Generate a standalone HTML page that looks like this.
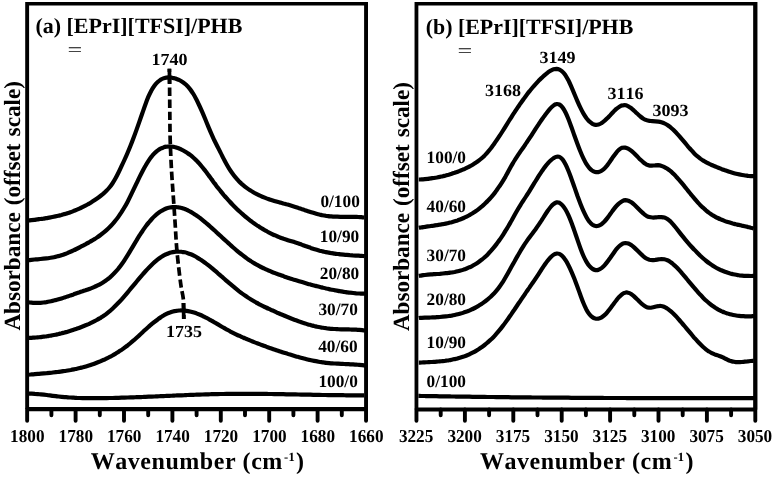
<!DOCTYPE html>
<html><head><meta charset="utf-8"><title>FTIR</title>
<style>html,body{margin:0;padding:0;background:#fff}svg{display:block}text{font-family:"Liberation Serif",serif;font-weight:bold;fill:#000;text-rendering:geometricPrecision;font-kerning:none}</style></head><body>
<svg width="775" height="477" viewBox="0 0 775 477">
<rect width="775" height="477" fill="#fff"/>
<g fill="none" stroke="#000" stroke-width="4.2" stroke-linejoin="round" stroke-linecap="butt">
<path d="M28.4,220.5C28.9,220.4 30.4,220.2 31.4,220.1C32.4,220.0 33.4,219.9 34.4,219.8C35.4,219.7 36.4,219.5 37.4,219.4C38.4,219.3 39.4,219.1 40.4,219.0C41.4,218.9 42.4,218.7 43.4,218.6C44.4,218.4 45.4,218.3 46.4,218.1C47.4,217.9 48.4,217.8 49.4,217.6C50.4,217.4 51.4,217.2 52.4,217.0C53.4,216.8 54.4,216.6 55.4,216.4C56.4,216.2 57.4,216.0 58.4,215.7C59.4,215.5 60.4,215.2 61.4,215.0C62.4,214.7 63.4,214.4 64.4,214.1C65.4,213.9 66.4,213.6 67.4,213.2C68.4,212.9 69.4,212.6 70.4,212.2C71.4,211.9 72.4,211.5 73.4,211.1C74.4,210.8 75.4,210.4 76.4,209.9C77.4,209.5 78.4,209.1 79.4,208.6C80.4,208.2 81.4,207.7 82.4,207.2C83.4,206.7 84.4,206.2 85.4,205.7C86.4,205.2 87.4,204.6 88.4,204.0C89.4,203.5 90.4,202.9 91.4,202.2C92.4,201.6 93.4,201.0 94.4,200.3C95.4,199.6 96.4,198.9 97.4,198.2C98.4,197.5 99.4,196.8 100.4,196.0C101.4,195.2 102.4,194.4 103.4,193.6C104.4,192.7 105.4,191.8 106.4,190.8C107.4,189.8 108.4,188.7 109.4,187.5C110.4,186.3 111.4,185.0 112.4,183.5C113.4,182.0 114.4,180.4 115.4,178.6C116.4,176.8 117.4,174.8 118.4,172.8C119.4,170.8 120.4,168.6 121.4,166.4C122.4,164.3 123.4,162.2 124.4,160.0C125.4,157.8 126.4,155.6 127.4,153.2C128.4,150.9 129.4,148.5 130.4,146.0C131.4,143.5 132.4,140.9 133.4,138.2C134.4,135.6 135.4,132.9 136.4,130.1C137.4,127.3 138.4,124.5 139.4,121.6C140.4,118.8 141.4,115.8 142.4,113.0C143.4,110.1 144.4,107.1 145.4,104.4C146.4,101.7 147.4,99.0 148.4,96.7C149.4,94.4 150.4,92.3 151.4,90.4C152.4,88.6 153.4,87.1 154.4,85.7C155.4,84.3 156.4,83.2 157.4,82.3C158.4,81.3 159.4,80.6 160.4,79.9C161.4,79.3 162.4,78.8 163.4,78.4C164.4,78.0 165.4,77.8 166.4,77.6C167.4,77.4 168.4,77.4 169.4,77.4C170.4,77.4 171.4,77.6 172.4,77.8C173.4,77.9 174.4,78.2 175.4,78.5C176.4,78.9 177.4,79.3 178.4,79.7C179.4,80.2 180.4,80.7 181.4,81.3C182.4,81.9 183.4,82.6 184.4,83.4C185.4,84.2 186.4,85.0 187.4,86.1C188.4,87.1 189.4,88.3 190.4,89.6C191.4,90.9 192.4,92.4 193.4,94.0C194.4,95.6 195.4,97.5 196.4,99.4C197.3,101.3 198.3,103.4 199.3,105.5C200.3,107.6 201.3,109.9 202.3,112.2C203.3,114.5 204.3,116.9 205.3,119.3C206.3,121.7 207.3,124.2 208.3,126.6C209.3,129.0 210.3,131.5 211.3,133.7C212.3,136.0 213.3,138.2 214.3,140.3C215.3,142.3 216.3,144.2 217.3,146.2C218.3,148.2 219.3,150.1 220.3,152.1C221.3,154.0 222.3,156.1 223.3,158.1C224.3,160.0 225.3,162.0 226.3,163.8C227.3,165.6 228.3,167.3 229.3,168.9C230.3,170.5 231.3,171.9 232.3,173.3C233.3,174.7 234.3,176.0 235.3,177.2C236.3,178.4 237.3,179.6 238.3,180.6C239.3,181.7 240.3,182.6 241.3,183.6C242.3,184.5 243.3,185.3 244.3,186.1C245.3,187.0 246.3,187.7 247.3,188.4C248.3,189.1 249.3,189.8 250.3,190.4C251.3,191.1 252.3,191.7 253.3,192.3C254.3,192.9 255.3,193.4 256.3,193.9C257.3,194.4 258.3,194.9 259.3,195.4C260.3,195.9 261.3,196.3 262.3,196.7C263.3,197.1 264.3,197.5 265.3,197.9C266.3,198.3 267.3,198.7 268.3,199.0C269.3,199.4 270.3,199.7 271.3,200.0C272.3,200.3 273.3,200.6 274.3,200.9C275.3,201.2 276.3,201.5 277.3,201.8C278.3,202.1 279.3,202.4 280.3,202.6C281.3,202.9 282.3,203.2 283.3,203.5C284.3,203.7 285.3,204.0 286.3,204.3C287.3,204.5 288.3,204.8 289.3,205.1C290.3,205.4 291.3,205.7 292.3,206.0C293.3,206.3 294.3,206.6 295.3,206.9C296.3,207.2 297.3,207.5 298.3,207.9C299.3,208.2 300.3,208.5 301.3,208.9C302.3,209.2 303.3,209.5 304.3,209.9C305.3,210.2 306.3,210.6 307.3,210.9C308.3,211.2 309.3,211.6 310.3,211.9C311.3,212.2 312.3,212.5 313.3,212.8C314.3,213.1 315.3,213.4 316.3,213.7C317.3,214.0 318.3,214.3 319.3,214.5C320.3,214.7 321.3,215.0 322.3,215.2C323.3,215.4 324.3,215.6 325.3,215.7C326.3,215.9 327.3,216.0 328.3,216.1C329.3,216.3 330.3,216.3 331.3,216.4C332.3,216.5 333.3,216.6 334.3,216.6C335.3,216.7 336.3,216.7 337.3,216.7C338.3,216.8 339.3,216.8 340.3,216.8C341.3,216.8 342.3,216.8 343.3,216.8C344.3,216.8 345.3,216.8 346.3,216.8C347.3,216.8 348.3,216.8 349.3,216.8C350.3,216.8 351.3,216.8 352.3,216.8C353.3,216.9 354.3,216.9 355.3,216.9C356.3,216.9 357.3,217.0 358.3,217.0C359.3,217.1 360.3,217.2 361.3,217.2C362.3,217.3 363.8,217.5 364.3,217.5"/>
<path d="M28.4,260.2C28.9,260.1 30.4,259.9 31.4,259.8C32.4,259.7 33.4,259.6 34.4,259.5C35.4,259.4 36.4,259.4 37.4,259.3C38.4,259.2 39.4,259.1 40.4,259.0C41.4,258.9 42.4,258.8 43.4,258.7C44.4,258.6 45.4,258.5 46.4,258.4C47.4,258.3 48.4,258.2 49.4,258.0C50.4,257.9 51.4,257.7 52.4,257.5C53.4,257.3 54.4,257.1 55.4,256.9C56.4,256.7 57.4,256.4 58.4,256.1C59.4,255.9 60.4,255.6 61.4,255.2C62.4,254.9 63.4,254.6 64.4,254.2C65.4,253.8 66.4,253.5 67.4,253.1C68.4,252.7 69.4,252.2 70.4,251.8C71.4,251.4 72.4,250.9 73.4,250.4C74.4,250.0 75.4,249.5 76.4,249.0C77.4,248.5 78.4,248.0 79.4,247.5C80.4,247.0 81.4,246.4 82.4,245.9C83.4,245.4 84.5,244.8 85.5,244.3C86.5,243.7 87.5,243.2 88.5,242.6C89.5,242.0 90.5,241.5 91.5,240.9C92.5,240.3 93.5,239.7 94.5,239.1C95.5,238.5 96.5,237.8 97.5,237.1C98.5,236.5 99.5,235.8 100.5,235.0C101.5,234.3 102.5,233.5 103.5,232.7C104.5,231.9 105.5,231.0 106.5,230.1C107.5,229.2 108.5,228.3 109.5,227.3C110.5,226.3 111.5,225.2 112.5,224.1C113.5,223.0 114.5,221.8 115.5,220.5C116.5,219.3 117.5,218.0 118.5,216.6C119.5,215.2 120.5,213.7 121.5,212.2C122.5,210.6 123.5,209.0 124.5,207.3C125.5,205.6 126.5,203.8 127.5,201.9C128.5,200.0 129.5,198.0 130.5,195.9C131.5,193.9 132.5,191.8 133.5,189.7C134.5,187.6 135.5,185.5 136.5,183.4C137.5,181.3 138.5,179.1 139.5,177.1C140.5,175.1 141.5,173.1 142.5,171.2C143.5,169.2 144.5,167.4 145.5,165.7C146.5,163.9 147.5,162.3 148.5,160.8C149.5,159.3 150.5,157.9 151.5,156.7C152.5,155.4 153.5,154.3 154.5,153.3C155.5,152.3 156.5,151.4 157.5,150.6C158.5,149.9 159.5,149.2 160.5,148.7C161.5,148.2 162.5,147.7 163.5,147.4C164.5,147.0 165.5,146.8 166.5,146.7C167.5,146.5 168.5,146.4 169.5,146.4C170.5,146.4 171.5,146.5 172.5,146.7C173.5,146.8 174.5,147.1 175.5,147.3C176.5,147.6 177.5,148.0 178.5,148.3C179.5,148.7 180.5,149.2 181.5,149.6C182.5,150.1 183.5,150.6 184.5,151.2C185.5,151.8 186.5,152.4 187.5,153.1C188.5,153.7 189.5,154.4 190.5,155.2C191.5,156.0 192.5,156.9 193.5,157.8C194.5,158.7 195.5,159.6 196.6,160.6C197.6,161.7 198.6,162.8 199.6,163.9C200.6,165.1 201.6,166.3 202.6,167.5C203.6,168.8 204.6,170.0 205.6,171.3C206.6,172.6 207.6,174.0 208.6,175.3C209.6,176.7 210.6,178.0 211.6,179.4C212.6,180.7 213.6,182.1 214.6,183.4C215.6,184.7 216.6,186.1 217.6,187.4C218.6,188.6 219.6,189.9 220.6,191.1C221.6,192.4 222.6,193.6 223.6,194.8C224.6,195.9 225.6,197.1 226.6,198.2C227.6,199.4 228.6,200.5 229.6,201.5C230.6,202.6 231.6,203.7 232.6,204.7C233.6,205.7 234.6,206.7 235.6,207.7C236.6,208.7 237.6,209.7 238.6,210.6C239.6,211.5 240.6,212.5 241.6,213.3C242.6,214.2 243.6,215.1 244.6,216.0C245.6,216.8 246.6,217.6 247.6,218.4C248.6,219.2 249.6,220.0 250.6,220.8C251.6,221.5 252.6,222.3 253.6,223.0C254.6,223.7 255.6,224.4 256.6,225.1C257.6,225.8 258.6,226.4 259.6,227.1C260.6,227.7 261.6,228.3 262.6,228.9C263.6,229.5 264.6,230.1 265.6,230.7C266.6,231.2 267.6,231.8 268.6,232.3C269.6,232.8 270.6,233.3 271.6,233.8C272.6,234.3 273.6,234.8 274.6,235.2C275.6,235.7 276.6,236.1 277.6,236.5C278.6,236.9 279.6,237.3 280.6,237.7C281.6,238.1 282.6,238.4 283.6,238.8C284.6,239.1 285.6,239.4 286.6,239.7C287.6,240.1 288.6,240.4 289.6,240.7C290.6,241.0 291.6,241.3 292.6,241.6C293.6,241.9 294.6,242.2 295.6,242.6C296.6,242.9 297.6,243.2 298.6,243.5C299.6,243.9 300.6,244.2 301.6,244.6C302.6,245.0 303.6,245.3 304.6,245.7C305.6,246.1 306.6,246.4 307.6,246.8C308.6,247.2 309.7,247.5 310.7,247.9C311.7,248.2 312.7,248.6 313.7,248.9C314.7,249.2 315.7,249.5 316.7,249.8C317.7,250.1 318.7,250.4 319.7,250.7C320.7,250.9 321.7,251.2 322.7,251.4C323.7,251.6 324.7,251.9 325.7,252.1C326.7,252.3 327.7,252.5 328.7,252.6C329.7,252.8 330.7,253.0 331.7,253.2C332.7,253.3 333.7,253.5 334.7,253.6C335.7,253.8 336.7,253.9 337.7,254.0C338.7,254.1 339.7,254.3 340.7,254.4C341.7,254.5 342.7,254.6 343.7,254.7C344.7,254.8 345.7,254.8 346.7,254.9C347.7,255.0 348.7,255.1 349.7,255.2C350.7,255.2 351.7,255.3 352.7,255.4C353.7,255.4 354.7,255.5 355.7,255.6C356.7,255.6 357.7,255.7 358.7,255.7C359.7,255.8 360.7,255.8 361.7,255.9C362.7,256.0 364.2,256.0 364.7,256.1"/>
<path d="M28.5,302.3C29.0,302.4 30.5,302.6 31.5,302.7C32.5,302.8 33.5,302.8 34.5,302.9C35.5,302.9 36.5,302.9 37.5,302.9C38.5,302.9 39.5,302.9 40.5,302.8C41.5,302.7 42.5,302.6 43.5,302.5C44.5,302.4 45.5,302.2 46.5,302.1C47.5,301.9 48.5,301.7 49.5,301.5C50.5,301.3 51.5,301.1 52.5,300.9C53.6,300.7 54.6,300.4 55.6,300.1C56.6,299.9 57.6,299.6 58.6,299.3C59.6,299.0 60.6,298.7 61.6,298.4C62.6,298.1 63.6,297.8 64.6,297.4C65.6,297.1 66.6,296.8 67.6,296.4C68.6,296.1 69.6,295.8 70.6,295.4C71.6,295.1 72.6,294.7 73.6,294.4C74.6,294.0 75.6,293.7 76.6,293.3C77.6,293.0 78.6,292.6 79.6,292.3C80.6,291.9 81.6,291.6 82.6,291.3C83.6,290.9 84.6,290.6 85.6,290.3C86.6,289.9 87.6,289.6 88.6,289.2C89.6,288.8 90.6,288.5 91.6,288.1C92.6,287.7 93.6,287.3 94.6,286.8C95.6,286.4 96.6,285.9 97.6,285.4C98.6,284.9 99.6,284.4 100.7,283.8C101.7,283.3 102.7,282.7 103.7,282.0C104.7,281.4 105.7,280.7 106.7,279.9C107.7,279.2 108.7,278.4 109.7,277.6C110.7,276.7 111.7,275.8 112.7,274.8C113.7,273.9 114.7,272.8 115.7,271.7C116.7,270.6 117.7,269.5 118.7,268.2C119.7,267.0 120.7,265.7 121.7,264.3C122.7,262.9 123.7,261.4 124.7,259.8C125.7,258.3 126.7,256.7 127.7,255.1C128.7,253.5 129.7,251.8 130.7,250.1C131.7,248.5 132.7,246.8 133.7,245.1C134.7,243.4 135.7,241.7 136.7,240.1C137.7,238.4 138.7,236.8 139.7,235.2C140.7,233.7 141.7,232.1 142.7,230.7C143.7,229.2 144.7,227.8 145.7,226.4C146.7,225.0 147.7,223.7 148.8,222.5C149.8,221.3 150.8,220.1 151.8,219.0C152.8,217.9 153.8,216.9 154.8,216.0C155.8,215.1 156.8,214.2 157.8,213.4C158.8,212.6 159.8,211.9 160.8,211.3C161.8,210.7 162.8,210.1 163.8,209.6C164.8,209.1 165.8,208.7 166.8,208.3C167.8,208.0 168.8,207.7 169.8,207.5C170.8,207.3 171.8,207.2 172.8,207.1C173.8,207.0 174.8,207.0 175.8,207.0C176.8,207.1 177.8,207.2 178.8,207.4C179.8,207.5 180.8,207.8 181.8,208.0C182.8,208.3 183.8,208.7 184.8,209.0C185.8,209.4 186.8,209.9 187.8,210.3C188.8,210.8 189.8,211.3 190.8,211.9C191.8,212.5 192.8,213.1 193.8,213.7C194.8,214.4 195.8,215.0 196.8,215.7C197.9,216.4 198.9,217.2 199.9,217.9C200.9,218.7 201.9,219.5 202.9,220.3C203.9,221.1 204.9,221.9 205.9,222.8C206.9,223.6 207.9,224.5 208.9,225.4C209.9,226.3 210.9,227.2 211.9,228.1C212.9,229.0 213.9,229.9 214.9,230.8C215.9,231.7 216.9,232.7 217.9,233.6C218.9,234.5 219.9,235.4 220.9,236.3C221.9,237.3 222.9,238.2 223.9,239.1C224.9,240.0 225.9,240.9 226.9,241.8C227.9,242.7 228.9,243.6 229.9,244.5C230.9,245.4 231.9,246.3 232.9,247.2C233.9,248.1 234.9,248.9 235.9,249.8C236.9,250.6 237.9,251.5 238.9,252.3C239.9,253.1 240.9,253.9 241.9,254.7C242.9,255.5 243.9,256.2 245.0,257.0C246.0,257.7 247.0,258.5 248.0,259.2C249.0,259.9 250.0,260.5 251.0,261.2C252.0,261.8 253.0,262.5 254.0,263.1C255.0,263.7 256.0,264.3 257.0,264.8C258.0,265.4 259.0,265.9 260.0,266.5C261.0,267.0 262.0,267.5 263.0,268.0C264.0,268.5 265.0,268.9 266.0,269.4C267.0,269.9 268.0,270.3 269.0,270.7C270.0,271.2 271.0,271.6 272.0,272.0C273.0,272.4 274.0,272.8 275.0,273.1C276.0,273.5 277.0,273.9 278.0,274.3C279.0,274.6 280.0,275.0 281.0,275.3C282.0,275.7 283.0,276.0 284.0,276.4C285.0,276.7 286.0,277.1 287.0,277.4C288.0,277.7 289.0,278.1 290.0,278.4C291.0,278.7 292.0,279.0 293.1,279.4C294.1,279.7 295.1,280.0 296.1,280.3C297.1,280.6 298.1,280.9 299.1,281.2C300.1,281.5 301.1,281.8 302.1,282.1C303.1,282.4 304.1,282.7 305.1,283.0C306.1,283.3 307.1,283.6 308.1,283.9C309.1,284.2 310.1,284.4 311.1,284.7C312.1,285.0 313.1,285.3 314.1,285.5C315.1,285.8 316.1,286.0 317.1,286.3C318.1,286.6 319.1,286.8 320.1,287.0C321.1,287.3 322.1,287.5 323.1,287.8C324.1,288.0 325.1,288.2 326.1,288.5C327.1,288.7 328.1,288.9 329.1,289.1C330.1,289.3 331.1,289.6 332.1,289.8C333.1,290.0 334.1,290.2 335.1,290.3C336.1,290.5 337.1,290.7 338.1,290.9C339.1,291.1 340.1,291.2 341.2,291.4C342.2,291.6 343.2,291.7 344.2,291.9C345.2,292.0 346.2,292.2 347.2,292.3C348.2,292.4 349.2,292.5 350.2,292.7C351.2,292.8 352.2,292.9 353.2,293.0C354.2,293.1 355.2,293.2 356.2,293.3C357.2,293.3 358.2,293.4 359.2,293.5C360.2,293.5 361.2,293.6 362.2,293.6C363.2,293.7 364.7,293.7 365.2,293.8"/>
<path d="M28.5,337.9C29.0,337.9 30.5,337.8 31.5,337.8C32.5,337.7 33.5,337.7 34.5,337.6C35.5,337.5 36.5,337.5 37.5,337.4C38.5,337.3 39.5,337.2 40.5,337.1C41.5,337.0 42.5,336.8 43.5,336.7C44.5,336.6 45.5,336.4 46.5,336.3C47.5,336.1 48.5,336.0 49.5,335.8C50.5,335.6 51.5,335.5 52.5,335.3C53.6,335.1 54.6,334.9 55.6,334.7C56.6,334.5 57.6,334.2 58.6,334.0C59.6,333.8 60.6,333.5 61.6,333.3C62.6,333.0 63.6,332.8 64.6,332.5C65.6,332.2 66.6,332.0 67.6,331.7C68.6,331.4 69.6,331.1 70.6,330.8C71.6,330.5 72.6,330.1 73.6,329.8C74.6,329.5 75.6,329.1 76.6,328.8C77.6,328.4 78.6,328.1 79.6,327.7C80.6,327.3 81.6,326.9 82.6,326.5C83.6,326.1 84.6,325.7 85.6,325.3C86.6,324.9 87.6,324.5 88.6,324.1C89.6,323.6 90.6,323.2 91.6,322.7C92.6,322.2 93.6,321.7 94.6,321.2C95.6,320.7 96.6,320.1 97.6,319.5C98.6,319.0 99.6,318.4 100.7,317.8C101.7,317.1 102.7,316.5 103.7,315.8C104.7,315.1 105.7,314.4 106.7,313.6C107.7,312.8 108.7,312.0 109.7,311.2C110.7,310.3 111.7,309.4 112.7,308.5C113.7,307.6 114.7,306.6 115.7,305.6C116.7,304.6 117.7,303.6 118.7,302.5C119.7,301.5 120.7,300.4 121.7,299.3C122.7,298.1 123.7,297.0 124.7,295.8C125.7,294.7 126.7,293.5 127.7,292.3C128.7,291.1 129.7,289.9 130.7,288.7C131.7,287.5 132.7,286.3 133.7,285.1C134.7,283.9 135.7,282.7 136.7,281.5C137.7,280.3 138.7,279.1 139.7,277.9C140.7,276.7 141.7,275.5 142.7,274.4C143.7,273.2 144.7,272.1 145.7,271.0C146.7,269.9 147.7,268.8 148.8,267.7C149.8,266.7 150.8,265.7 151.8,264.7C152.8,263.7 153.8,262.8 154.8,261.9C155.8,261.0 156.8,260.2 157.8,259.4C158.8,258.6 159.8,257.9 160.8,257.2C161.8,256.6 162.8,256.0 163.8,255.4C164.8,254.9 165.8,254.4 166.8,254.0C167.8,253.5 168.8,253.2 169.8,252.8C170.8,252.5 171.8,252.3 172.8,252.1C173.8,251.9 174.8,251.7 175.8,251.6C176.8,251.6 177.8,251.5 178.8,251.6C179.8,251.6 180.8,251.6 181.8,251.8C182.8,251.9 183.8,252.1 184.8,252.3C185.8,252.5 186.8,252.8 187.8,253.2C188.8,253.5 189.8,253.9 190.8,254.3C191.8,254.7 192.8,255.2 193.8,255.7C194.8,256.2 195.8,256.7 196.8,257.3C197.9,257.9 198.9,258.5 199.9,259.2C200.9,259.8 201.9,260.5 202.9,261.2C203.9,261.9 204.9,262.6 205.9,263.4C206.9,264.1 207.9,264.9 208.9,265.7C209.9,266.5 210.9,267.3 211.9,268.1C212.9,269.0 213.9,269.8 214.9,270.7C215.9,271.5 216.9,272.4 217.9,273.3C218.9,274.1 219.9,275.0 220.9,275.9C221.9,276.7 222.9,277.6 223.9,278.5C224.9,279.4 225.9,280.2 226.9,281.1C227.9,282.0 228.9,282.8 229.9,283.7C230.9,284.5 231.9,285.4 232.9,286.2C233.9,287.0 234.9,287.9 235.9,288.7C236.9,289.5 237.9,290.3 238.9,291.1C239.9,291.8 240.9,292.6 241.9,293.4C242.9,294.1 243.9,294.8 245.0,295.5C246.0,296.2 247.0,296.9 248.0,297.6C249.0,298.3 250.0,298.9 251.0,299.5C252.0,300.1 253.0,300.7 254.0,301.3C255.0,301.9 256.0,302.5 257.0,303.0C258.0,303.5 259.0,304.1 260.0,304.6C261.0,305.1 262.0,305.6 263.0,306.1C264.0,306.6 265.0,307.1 266.0,307.5C267.0,308.0 268.0,308.5 269.0,308.9C270.0,309.4 271.0,309.8 272.0,310.3C273.0,310.7 274.0,311.2 275.0,311.6C276.0,312.1 277.0,312.5 278.0,313.0C279.0,313.4 280.0,313.8 281.0,314.3C282.0,314.7 283.0,315.1 284.0,315.5C285.0,316.0 286.0,316.4 287.0,316.8C288.0,317.2 289.0,317.6 290.0,318.0C291.0,318.4 292.0,318.8 293.1,319.2C294.1,319.6 295.1,320.0 296.1,320.3C297.1,320.7 298.1,321.1 299.1,321.4C300.1,321.8 301.1,322.1 302.1,322.5C303.1,322.8 304.1,323.1 305.1,323.4C306.1,323.8 307.1,324.1 308.1,324.4C309.1,324.7 310.1,324.9 311.1,325.2C312.1,325.5 313.1,325.7 314.1,326.0C315.1,326.2 316.1,326.5 317.1,326.7C318.1,326.9 319.1,327.1 320.1,327.3C321.1,327.5 322.1,327.6 323.1,327.8C324.1,328.0 325.1,328.1 326.1,328.2C327.1,328.4 328.1,328.5 329.1,328.6C330.1,328.7 331.1,328.8 332.1,328.8C333.1,328.9 334.1,329.0 335.1,329.0C336.1,329.1 337.1,329.1 338.1,329.2C339.1,329.2 340.1,329.2 341.2,329.3C342.2,329.3 343.2,329.3 344.2,329.3C345.2,329.4 346.2,329.4 347.2,329.4C348.2,329.4 349.2,329.5 350.2,329.5C351.2,329.5 352.2,329.6 353.2,329.6C354.2,329.6 355.2,329.7 356.2,329.7C357.2,329.8 358.2,329.8 359.2,329.9C360.2,330.0 361.2,330.1 362.2,330.2C363.2,330.3 364.7,330.4 365.2,330.5"/>
<path d="M28.8,374.7C29.3,374.6 30.8,374.5 31.8,374.4C32.8,374.3 33.8,374.3 34.8,374.2C35.8,374.1 36.8,374.0 37.8,373.9C38.8,373.9 39.8,373.8 40.8,373.7C41.8,373.6 42.8,373.5 43.8,373.4C44.8,373.3 45.8,373.2 46.8,373.2C47.8,373.1 48.8,373.0 49.8,372.9C50.8,372.8 51.8,372.7 52.8,372.5C53.8,372.4 54.8,372.3 55.8,372.2C56.8,372.1 57.8,372.0 58.8,371.8C59.8,371.7 60.8,371.6 61.8,371.4C62.8,371.3 63.8,371.1 64.8,371.0C65.8,370.8 66.8,370.7 67.8,370.5C68.8,370.3 69.8,370.1 70.8,370.0C71.9,369.8 72.9,369.6 73.9,369.4C74.9,369.2 75.9,368.9 76.9,368.7C77.9,368.5 78.9,368.3 79.9,368.0C80.9,367.8 81.9,367.5 82.9,367.3C83.9,367.0 84.9,366.7 85.9,366.4C86.9,366.1 87.9,365.8 88.9,365.5C89.9,365.2 90.9,364.9 91.9,364.5C92.9,364.2 93.9,363.9 94.9,363.5C95.9,363.1 96.9,362.7 97.9,362.3C98.9,361.9 99.9,361.5 100.9,361.1C101.9,360.7 102.9,360.2 103.9,359.8C104.9,359.3 105.9,358.9 106.9,358.4C107.9,357.9 108.9,357.4 109.9,356.8C110.9,356.3 111.9,355.8 112.9,355.2C113.9,354.6 114.9,354.1 115.9,353.5C116.9,352.9 117.9,352.2 118.9,351.6C119.9,350.9 120.9,350.3 121.9,349.6C122.9,348.9 123.9,348.2 124.9,347.4C125.9,346.7 126.9,345.9 127.9,345.2C128.9,344.4 129.9,343.6 130.9,342.7C131.9,341.9 132.9,341.0 133.9,340.2C134.9,339.3 135.9,338.4 136.9,337.5C137.9,336.6 138.9,335.7 139.9,334.7C140.9,333.8 141.9,332.9 142.9,332.0C143.9,331.1 144.9,330.1 145.9,329.2C146.9,328.3 147.9,327.4 148.9,326.5C149.9,325.7 150.9,324.8 151.9,323.9C152.9,323.1 153.9,322.3 155.0,321.5C156.0,320.7 157.0,319.9 158.0,319.2C159.0,318.4 160.0,317.7 161.0,317.1C162.0,316.4 163.0,315.8 164.0,315.2C165.0,314.7 166.0,314.2 167.0,313.7C168.0,313.2 169.0,312.8 170.0,312.5C171.0,312.1 172.0,311.8 173.0,311.5C174.0,311.2 175.0,311.0 176.0,310.9C177.0,310.7 178.0,310.6 179.0,310.5C180.0,310.5 181.0,310.4 182.0,310.5C183.0,310.5 184.0,310.5 185.0,310.6C186.0,310.7 187.0,310.9 188.0,311.1C189.0,311.3 190.0,311.5 191.0,311.7C192.0,312.0 193.0,312.3 194.0,312.6C195.0,312.9 196.0,313.2 197.0,313.6C198.0,314.0 199.0,314.4 200.0,314.8C201.0,315.2 202.0,315.7 203.0,316.2C204.0,316.6 205.0,317.1 206.0,317.7C207.0,318.2 208.0,318.7 209.0,319.3C210.0,319.8 211.0,320.4 212.0,320.9C213.0,321.5 214.0,322.1 215.0,322.7C216.0,323.2 217.0,323.8 218.0,324.4C219.0,325.0 220.0,325.6 221.0,326.2C222.0,326.8 223.0,327.4 224.0,327.9C225.0,328.5 226.0,329.1 227.0,329.7C228.0,330.2 229.0,330.7 230.0,331.3C231.0,331.8 232.0,332.3 233.0,332.8C234.0,333.3 235.0,333.8 236.0,334.3C237.0,334.8 238.0,335.3 239.1,335.7C240.1,336.2 241.1,336.6 242.1,337.1C243.1,337.5 244.1,338.0 245.1,338.4C246.1,338.8 247.1,339.2 248.1,339.6C249.1,340.1 250.1,340.5 251.1,340.9C252.1,341.3 253.1,341.7 254.1,342.1C255.1,342.5 256.1,342.9 257.1,343.2C258.1,343.6 259.1,344.0 260.1,344.4C261.1,344.8 262.1,345.1 263.1,345.5C264.1,345.9 265.1,346.2 266.1,346.6C267.1,347.0 268.1,347.3 269.1,347.7C270.1,348.0 271.1,348.4 272.1,348.7C273.1,349.1 274.1,349.4 275.1,349.7C276.1,350.1 277.1,350.4 278.1,350.7C279.1,351.1 280.1,351.4 281.1,351.7C282.1,352.1 283.1,352.4 284.1,352.7C285.1,353.0 286.1,353.3 287.1,353.6C288.1,354.0 289.1,354.3 290.1,354.6C291.1,354.9 292.1,355.2 293.1,355.5C294.1,355.8 295.1,356.1 296.1,356.4C297.1,356.7 298.1,356.9 299.1,357.2C300.1,357.5 301.1,357.8 302.1,358.0C303.1,358.3 304.1,358.6 305.1,358.8C306.1,359.1 307.1,359.3 308.1,359.6C309.1,359.8 310.1,360.0 311.1,360.2C312.1,360.5 313.1,360.7 314.1,360.9C315.1,361.1 316.1,361.3 317.1,361.4C318.1,361.6 319.1,361.8 320.1,362.0C321.1,362.1 322.1,362.3 323.2,362.4C324.2,362.5 325.2,362.7 326.2,362.8C327.2,362.9 328.2,363.0 329.2,363.1C330.2,363.2 331.2,363.3 332.2,363.3C333.2,363.4 334.2,363.5 335.2,363.5C336.2,363.6 337.2,363.7 338.2,363.7C339.2,363.8 340.2,363.8 341.2,363.8C342.2,363.9 343.2,363.9 344.2,364.0C345.2,364.0 346.2,364.1 347.2,364.1C348.2,364.2 349.2,364.2 350.2,364.3C351.2,364.3 352.2,364.4 353.2,364.4C354.2,364.5 355.2,364.6 356.2,364.6C357.2,364.7 358.2,364.8 359.2,364.9C360.2,365.0 361.2,365.1 362.2,365.2C363.2,365.3 364.7,365.5 365.2,365.6"/>
<path d="M28.8,393.6C29.3,393.6 30.8,393.7 31.8,393.7C32.8,393.7 33.8,393.8 34.8,393.9C35.8,393.9 36.8,394.0 37.8,394.1C38.8,394.2 39.8,394.3 40.8,394.4C41.8,394.5 42.8,394.6 43.8,394.7C44.8,394.8 45.8,394.9 46.8,395.0C47.8,395.2 48.8,395.3 49.8,395.4C50.8,395.5 51.8,395.7 52.8,395.8C53.8,395.9 54.8,396.0 55.8,396.1C56.8,396.3 57.7,396.4 58.7,396.5C59.7,396.6 60.7,396.7 61.7,396.8C62.7,396.9 63.7,397.0 64.7,397.1C65.7,397.2 66.7,397.2 67.7,397.3C68.7,397.4 69.7,397.5 70.7,397.5C71.7,397.6 72.7,397.7 73.7,397.7C74.7,397.8 75.7,397.8 76.7,397.9C77.7,397.9 78.7,397.9 79.7,398.0C80.7,398.0 81.7,398.0 82.7,398.1C83.7,398.1 84.7,398.1 85.7,398.1C86.7,398.2 87.7,398.2 88.7,398.2C89.7,398.2 90.7,398.2 91.7,398.2C92.7,398.2 93.7,398.2 94.7,398.2C95.7,398.2 96.7,398.2 97.7,398.2C98.7,398.2 99.7,398.2 100.7,398.2C101.7,398.2 102.7,398.2 103.7,398.1C104.7,398.1 105.7,398.1 106.7,398.1C107.7,398.1 108.7,398.1 109.7,398.0C110.7,398.0 111.7,398.0 112.6,398.0C113.6,397.9 114.6,397.9 115.6,397.9C116.6,397.9 117.6,397.8 118.6,397.8C119.6,397.8 120.6,397.8 121.6,397.7C122.6,397.7 123.6,397.7 124.6,397.6C125.6,397.6 126.6,397.6 127.6,397.5C128.6,397.5 129.6,397.5 130.6,397.4C131.6,397.4 132.6,397.4 133.6,397.3C134.6,397.3 135.6,397.2 136.6,397.2C137.6,397.2 138.6,397.1 139.6,397.1C140.6,397.1 141.6,397.0 142.6,397.0C143.6,396.9 144.6,396.9 145.6,396.8C146.6,396.8 147.6,396.8 148.6,396.7C149.6,396.7 150.6,396.6 151.6,396.6C152.6,396.5 153.6,396.5 154.6,396.5C155.6,396.4 156.6,396.4 157.6,396.3C158.6,396.3 159.6,396.2 160.6,396.2C161.6,396.2 162.6,396.1 163.6,396.1C164.6,396.0 165.6,396.0 166.6,395.9C167.6,395.9 168.6,395.8 169.5,395.8C170.5,395.8 171.5,395.7 172.5,395.7C173.5,395.6 174.5,395.6 175.5,395.5C176.5,395.5 177.5,395.4 178.5,395.4C179.5,395.4 180.5,395.3 181.5,395.3C182.5,395.2 183.5,395.2 184.5,395.2C185.5,395.1 186.5,395.1 187.5,395.0C188.5,395.0 189.5,395.0 190.5,394.9C191.5,394.9 192.5,394.8 193.5,394.8C194.5,394.8 195.5,394.7 196.5,394.7C197.5,394.7 198.5,394.6 199.5,394.6C200.5,394.5 201.5,394.5 202.5,394.5C203.5,394.4 204.5,394.4 205.5,394.4C206.5,394.4 207.5,394.3 208.5,394.3C209.5,394.3 210.5,394.2 211.5,394.2C212.5,394.2 213.5,394.2 214.5,394.1C215.5,394.1 216.5,394.1 217.5,394.1C218.5,394.0 219.5,394.0 220.5,394.0C221.5,394.0 222.5,394.0 223.5,394.0C224.4,393.9 225.4,393.9 226.4,393.9C227.4,393.9 228.4,393.9 229.4,393.9C230.4,393.9 231.4,393.8 232.4,393.8C233.4,393.8 234.4,393.8 235.4,393.8C236.4,393.8 237.4,393.8 238.4,393.8C239.4,393.8 240.4,393.8 241.4,393.8C242.4,393.8 243.4,393.8 244.4,393.8C245.4,393.8 246.4,393.8 247.4,393.8C248.4,393.8 249.4,393.8 250.4,393.8C251.4,393.8 252.4,393.8 253.4,393.8C254.4,393.8 255.4,393.8 256.4,393.8C257.4,393.8 258.4,393.9 259.4,393.9C260.4,393.9 261.4,393.9 262.4,393.9C263.4,393.9 264.4,393.9 265.4,393.9C266.4,393.9 267.4,394.0 268.4,394.0C269.4,394.0 270.4,394.0 271.4,394.0C272.4,394.0 273.4,394.0 274.4,394.1C275.4,394.1 276.4,394.1 277.4,394.1C278.4,394.1 279.4,394.1 280.3,394.2C281.3,394.2 282.3,394.2 283.3,394.2C284.3,394.2 285.3,394.2 286.3,394.3C287.3,394.3 288.3,394.3 289.3,394.3C290.3,394.3 291.3,394.4 292.3,394.4C293.3,394.4 294.3,394.4 295.3,394.4C296.3,394.5 297.3,394.5 298.3,394.5C299.3,394.5 300.3,394.5 301.3,394.6C302.3,394.6 303.3,394.6 304.3,394.6C305.3,394.6 306.3,394.7 307.3,394.7C308.3,394.7 309.3,394.7 310.3,394.7C311.3,394.8 312.3,394.8 313.3,394.8C314.3,394.8 315.3,394.8 316.3,394.8C317.3,394.9 318.3,394.9 319.3,394.9C320.3,394.9 321.3,394.9 322.3,395.0C323.3,395.0 324.3,395.0 325.3,395.0C326.3,395.0 327.3,395.0 328.3,395.1C329.3,395.1 330.3,395.1 331.3,395.1C332.3,395.1 333.3,395.1 334.3,395.1C335.3,395.2 336.2,395.2 337.2,395.2C338.2,395.2 339.2,395.2 340.2,395.2C341.2,395.2 342.2,395.2 343.2,395.2C344.2,395.2 345.2,395.3 346.2,395.3C347.2,395.3 348.2,395.3 349.2,395.3C350.2,395.3 351.2,395.3 352.2,395.3C353.2,395.3 354.2,395.3 355.2,395.3C356.2,395.3 357.2,395.3 358.2,395.3C359.2,395.3 360.2,395.3 361.2,395.3C362.2,395.3 363.7,395.3 364.2,395.3"/>
<path d="M418.8,179.5C419.3,179.5 420.8,179.4 421.8,179.3C422.8,179.3 423.8,179.2 424.8,179.1C425.8,179.0 426.8,178.9 427.8,178.8C428.8,178.7 429.8,178.5 430.8,178.4C431.8,178.3 432.8,178.1 433.8,178.0C434.8,177.8 435.8,177.6 436.8,177.5C437.8,177.3 438.8,177.1 439.8,176.9C440.8,176.7 441.8,176.4 442.8,176.2C443.8,176.0 444.8,175.7 445.8,175.5C446.8,175.2 447.7,174.9 448.7,174.7C449.7,174.4 450.7,174.1 451.7,173.8C452.7,173.4 453.7,173.1 454.7,172.8C455.7,172.4 456.7,172.1 457.7,171.7C458.7,171.3 459.7,170.9 460.7,170.5C461.7,170.1 462.7,169.7 463.7,169.3C464.7,168.8 465.7,168.4 466.7,167.9C467.7,167.4 468.7,167.0 469.7,166.4C470.7,165.9 471.7,165.3 472.7,164.7C473.7,164.1 474.7,163.5 475.7,162.8C476.7,162.2 477.7,161.5 478.7,160.7C479.7,159.9 480.7,159.1 481.7,158.2C482.7,157.3 483.7,156.4 484.7,155.4C485.7,154.3 486.7,153.3 487.7,152.1C488.7,151.0 489.7,149.7 490.7,148.5C491.7,147.2 492.7,145.8 493.7,144.5C494.7,143.1 495.7,141.7 496.7,140.2C497.7,138.7 498.7,137.2 499.7,135.7C500.7,134.2 501.7,132.6 502.7,131.0C503.6,129.5 504.6,127.9 505.6,126.3C506.6,124.7 507.6,123.1 508.6,121.5C509.6,119.9 510.6,118.4 511.6,116.8C512.6,115.2 513.6,113.7 514.6,112.2C515.6,110.6 516.6,109.1 517.6,107.6C518.6,106.2 519.6,104.7 520.6,103.3C521.6,101.8 522.6,100.4 523.6,99.1C524.6,97.7 525.6,96.3 526.6,95.0C527.6,93.7 528.6,92.4 529.6,91.2C530.6,89.9 531.6,88.7 532.6,87.5C533.6,86.3 534.6,85.2 535.6,84.1C536.6,83.0 537.6,81.9 538.6,80.8C539.6,79.8 540.6,78.8 541.6,77.9C542.6,76.9 543.6,76.0 544.6,75.1C545.6,74.3 546.6,73.4 547.6,72.7C548.6,71.9 549.6,71.2 550.6,70.7C551.6,70.1 552.6,69.6 553.6,69.3C554.6,69.0 555.6,68.9 556.6,68.9C557.6,69.0 558.5,69.2 559.5,69.6C560.5,70.1 561.5,70.7 562.5,71.7C563.5,72.6 564.5,73.9 565.5,75.3C566.5,76.8 567.5,78.7 568.5,80.6C569.5,82.6 570.5,84.9 571.5,87.1C572.5,89.4 573.5,91.8 574.5,94.2C575.5,96.6 576.5,99.0 577.5,101.3C578.5,103.6 579.5,105.9 580.5,107.9C581.5,110.0 582.5,111.9 583.5,113.6C584.5,115.3 585.5,116.8 586.5,118.2C587.5,119.5 588.5,120.7 589.5,121.6C590.5,122.6 591.5,123.3 592.5,123.9C593.5,124.4 594.5,124.7 595.5,124.9C596.5,125.0 597.5,124.9 598.5,124.6C599.5,124.3 600.5,123.8 601.5,123.1C602.5,122.5 603.5,121.7 604.5,120.8C605.5,120.0 606.5,119.0 607.5,118.0C608.5,117.0 609.5,115.9 610.5,114.9C611.5,113.8 612.5,112.7 613.5,111.7C614.5,110.8 615.4,109.8 616.4,108.9C617.4,108.1 618.4,107.3 619.4,106.7C620.4,106.1 621.4,105.6 622.4,105.4C623.4,105.1 624.4,105.0 625.4,105.2C626.4,105.3 627.4,105.8 628.4,106.3C629.4,106.8 630.4,107.6 631.4,108.3C632.4,109.1 633.4,110.0 634.4,111.0C635.4,111.9 636.4,112.9 637.4,113.8C638.4,114.7 639.4,115.7 640.4,116.5C641.4,117.3 642.4,118.1 643.4,118.7C644.4,119.3 645.4,119.8 646.4,120.1C647.4,120.5 648.4,120.7 649.4,120.8C650.4,121.0 651.4,121.1 652.4,121.2C653.4,121.3 654.4,121.3 655.4,121.3C656.4,121.4 657.4,121.5 658.4,121.6C659.4,121.7 660.4,121.9 661.4,122.2C662.4,122.5 663.4,122.9 664.4,123.4C665.4,123.8 666.4,124.4 667.4,125.0C668.4,125.7 669.4,126.4 670.4,127.2C671.3,128.0 672.3,128.9 673.3,129.8C674.3,130.8 675.3,131.8 676.3,132.8C677.3,133.9 678.3,135.0 679.3,136.1C680.3,137.3 681.3,138.5 682.3,139.6C683.3,140.8 684.3,142.0 685.3,143.2C686.3,144.4 687.3,145.6 688.3,146.8C689.3,147.9 690.3,149.1 691.3,150.2C692.3,151.3 693.3,152.4 694.3,153.4C695.3,154.4 696.3,155.3 697.3,156.2C698.3,157.0 699.3,157.8 700.3,158.6C701.3,159.3 702.3,160.0 703.3,160.6C704.3,161.2 705.3,161.8 706.3,162.4C707.3,162.9 708.3,163.4 709.3,163.9C710.3,164.3 711.3,164.8 712.3,165.2C713.3,165.6 714.3,166.1 715.3,166.5C716.3,166.9 717.3,167.3 718.3,167.7C719.3,168.1 720.3,168.5 721.3,168.9C722.3,169.2 723.3,169.6 724.3,170.0C725.3,170.3 726.2,170.7 727.2,171.0C728.2,171.4 729.2,171.7 730.2,172.0C731.2,172.3 732.2,172.6 733.2,172.9C734.2,173.2 735.2,173.5 736.2,173.7C737.2,174.0 738.2,174.2 739.2,174.4C740.2,174.6 741.2,174.8 742.2,175.0C743.2,175.2 744.2,175.4 745.2,175.5C746.2,175.6 747.2,175.8 748.2,175.9C749.2,175.9 750.2,176.0 751.2,176.1C752.2,176.1 753.7,176.1 754.2,176.1"/>
<path d="M418.8,227.8C419.3,227.7 420.8,227.5 421.8,227.3C422.8,227.2 423.8,227.0 424.8,226.9C425.8,226.7 426.8,226.6 427.8,226.4C428.8,226.3 429.8,226.2 430.8,226.0C431.8,225.9 432.8,225.7 433.8,225.6C434.7,225.4 435.7,225.3 436.7,225.2C437.7,225.0 438.7,224.8 439.7,224.7C440.7,224.5 441.7,224.3 442.7,224.2C443.7,224.0 444.7,223.8 445.7,223.6C446.7,223.4 447.7,223.2 448.7,222.9C449.7,222.7 450.7,222.4 451.7,222.2C452.7,221.9 453.7,221.6 454.7,221.3C455.7,221.0 456.7,220.7 457.7,220.4C458.7,220.0 459.7,219.7 460.7,219.3C461.7,218.9 462.7,218.5 463.7,218.0C464.6,217.6 465.6,217.1 466.6,216.6C467.6,216.1 468.6,215.6 469.6,215.0C470.6,214.5 471.6,213.9 472.6,213.3C473.6,212.6 474.6,212.0 475.6,211.3C476.6,210.6 477.6,209.9 478.6,209.1C479.6,208.3 480.6,207.5 481.6,206.7C482.6,205.8 483.6,204.9 484.6,204.0C485.6,203.0 486.6,202.1 487.6,201.0C488.6,200.0 489.6,199.0 490.6,197.8C491.6,196.7 492.6,195.5 493.6,194.3C494.6,193.1 495.5,191.8 496.5,190.5C497.5,189.1 498.5,187.7 499.5,186.2C500.5,184.8 501.5,183.2 502.5,181.6C503.5,180.0 504.5,178.3 505.5,176.6C506.5,174.8 507.5,173.0 508.5,171.1C509.5,169.3 510.5,167.4 511.5,165.6C512.5,163.9 513.5,162.1 514.5,160.5C515.5,158.8 516.5,157.3 517.5,155.8C518.5,154.3 519.5,152.9 520.5,151.4C521.5,150.0 522.5,148.6 523.5,147.2C524.5,145.8 525.4,144.3 526.4,142.9C527.4,141.4 528.4,139.9 529.4,138.4C530.4,136.9 531.4,135.4 532.4,133.8C533.4,132.3 534.4,130.8 535.4,129.2C536.4,127.7 537.4,126.2 538.4,124.7C539.4,123.1 540.4,121.7 541.4,120.2C542.4,118.8 543.4,117.3 544.4,116.0C545.4,114.6 546.4,113.3 547.4,112.0C548.4,110.7 549.4,109.5 550.4,108.4C551.4,107.3 552.4,106.3 553.4,105.6C554.4,104.8 555.4,104.2 556.3,104.1C557.3,103.9 558.3,104.0 559.3,104.5C560.3,105.0 561.3,105.9 562.3,107.1C563.3,108.4 564.3,110.0 565.3,112.0C566.3,113.9 567.3,116.3 568.3,118.8C569.3,121.3 570.3,124.1 571.3,126.8C572.3,129.5 573.3,132.4 574.3,135.2C575.3,138.0 576.3,140.8 577.3,143.5C578.3,146.2 579.3,148.9 580.3,151.3C581.3,153.8 582.3,156.1 583.3,158.2C584.3,160.3 585.3,162.1 586.2,163.7C587.2,165.3 588.2,166.7 589.2,167.8C590.2,169.0 591.2,169.9 592.2,170.6C593.2,171.3 594.2,171.7 595.2,172.0C596.2,172.2 597.2,172.3 598.2,172.1C599.2,171.9 600.2,171.6 601.2,171.0C602.2,170.4 603.2,169.7 604.2,168.7C605.2,167.8 606.2,166.6 607.2,165.4C608.2,164.1 609.2,162.6 610.2,161.2C611.2,159.8 612.2,158.2 613.2,156.8C614.2,155.4 615.2,154.0 616.2,152.8C617.1,151.6 618.1,150.4 619.1,149.6C620.1,148.8 621.1,148.2 622.1,147.8C623.1,147.5 624.1,147.5 625.1,147.6C626.1,147.8 627.1,148.2 628.1,148.7C629.1,149.2 630.1,149.9 631.1,150.7C632.1,151.5 633.1,152.4 634.1,153.3C635.1,154.3 636.1,155.3 637.1,156.3C638.1,157.3 639.1,158.4 640.1,159.4C641.1,160.3 642.1,161.3 643.1,162.1C644.1,163.0 645.1,163.7 646.1,164.3C647.1,164.8 648.0,165.2 649.0,165.4C650.0,165.7 651.0,165.6 652.0,165.6C653.0,165.6 654.0,165.4 655.0,165.4C656.0,165.3 657.0,165.2 658.0,165.2C659.0,165.3 660.0,165.4 661.0,165.7C662.0,166.0 663.0,166.3 664.0,166.8C665.0,167.3 666.0,167.9 667.0,168.5C668.0,169.2 669.0,169.9 670.0,170.7C671.0,171.5 672.0,172.4 673.0,173.4C674.0,174.3 675.0,175.3 676.0,176.4C677.0,177.4 677.9,178.6 678.9,179.7C679.9,180.8 680.9,182.0 681.9,183.2C682.9,184.4 683.9,185.6 684.9,186.9C685.9,188.1 686.9,189.4 687.9,190.6C688.9,191.8 689.9,193.1 690.9,194.3C691.9,195.5 692.9,196.8 693.9,197.9C694.9,199.1 695.9,200.3 696.9,201.4C697.9,202.6 698.9,203.6 699.9,204.7C700.9,205.7 701.9,206.7 702.9,207.6C703.9,208.6 704.9,209.4 705.9,210.3C706.9,211.1 707.9,211.9 708.8,212.6C709.8,213.3 710.8,214.0 711.8,214.7C712.8,215.3 713.8,215.9 714.8,216.5C715.8,217.0 716.8,217.6 717.8,218.0C718.8,218.5 719.8,219.0 720.8,219.4C721.8,219.9 722.8,220.3 723.8,220.6C724.8,221.0 725.8,221.4 726.8,221.7C727.8,222.0 728.8,222.3 729.8,222.6C730.8,222.9 731.8,223.2 732.8,223.5C733.8,223.7 734.8,224.0 735.8,224.2C736.8,224.4 737.8,224.7 738.7,224.9C739.7,225.1 740.7,225.3 741.7,225.6C742.7,225.8 743.7,226.0 744.7,226.2C745.7,226.5 746.7,226.7 747.7,226.9C748.7,227.2 749.7,227.4 750.7,227.7C751.7,227.9 753.2,228.3 753.7,228.5"/>
<path d="M418.8,275.9C419.3,275.8 420.8,275.6 421.8,275.4C422.8,275.3 423.8,275.1 424.8,275.0C425.8,274.9 426.8,274.8 427.8,274.7C428.8,274.6 429.8,274.5 430.8,274.4C431.8,274.3 432.8,274.3 433.8,274.2C434.8,274.1 435.8,274.1 436.8,274.0C437.8,273.9 438.8,273.8 439.8,273.8C440.8,273.7 441.8,273.6 442.8,273.5C443.8,273.4 444.8,273.3 445.8,273.2C446.8,273.1 447.7,273.0 448.7,272.9C449.7,272.8 450.7,272.6 451.7,272.5C452.7,272.3 453.7,272.1 454.7,272.0C455.7,271.8 456.7,271.6 457.7,271.3C458.7,271.1 459.7,270.8 460.7,270.5C461.7,270.3 462.7,270.0 463.7,269.6C464.7,269.3 465.7,268.9 466.7,268.5C467.7,268.1 468.7,267.7 469.7,267.2C470.7,266.8 471.7,266.3 472.7,265.7C473.7,265.2 474.7,264.6 475.7,264.0C476.7,263.4 477.7,262.7 478.7,262.0C479.7,261.3 480.7,260.5 481.7,259.7C482.7,259.0 483.7,258.1 484.7,257.2C485.7,256.3 486.7,255.4 487.7,254.4C488.7,253.4 489.7,252.3 490.7,251.2C491.7,250.1 492.7,248.9 493.7,247.7C494.7,246.5 495.7,245.2 496.7,243.9C497.7,242.5 498.7,241.2 499.7,239.8C500.7,238.3 501.7,236.9 502.7,235.3C503.6,233.8 504.6,232.3 505.6,230.6C506.6,229.0 507.6,227.4 508.6,225.7C509.6,224.0 510.6,222.2 511.6,220.5C512.6,218.7 513.6,216.8 514.6,215.0C515.6,213.2 516.6,211.4 517.6,209.7C518.6,208.0 519.6,206.4 520.6,204.8C521.6,203.2 522.6,201.7 523.6,200.1C524.6,198.6 525.6,197.1 526.6,195.5C527.6,194.0 528.6,192.4 529.6,190.8C530.6,189.2 531.6,187.6 532.6,185.9C533.6,184.3 534.6,182.6 535.6,181.0C536.6,179.4 537.6,177.8 538.6,176.2C539.6,174.6 540.6,173.1 541.6,171.6C542.6,170.2 543.6,168.7 544.6,167.4C545.6,166.1 546.6,164.8 547.6,163.7C548.6,162.5 549.6,161.4 550.6,160.5C551.6,159.6 552.6,158.8 553.6,158.1C554.6,157.5 555.6,156.9 556.6,156.7C557.6,156.5 558.5,156.4 559.5,156.9C560.5,157.3 561.5,158.2 562.5,159.4C563.5,160.6 564.5,162.4 565.5,164.3C566.5,166.2 567.5,168.6 568.5,171.0C569.5,173.4 570.5,176.2 571.5,178.9C572.5,181.6 573.5,184.6 574.5,187.4C575.5,190.3 576.5,193.2 577.5,196.0C578.5,198.7 579.5,201.4 580.5,204.0C581.5,206.5 582.5,209.0 583.5,211.2C584.5,213.4 585.5,215.4 586.5,217.2C587.5,219.0 588.5,220.6 589.5,221.8C590.5,223.1 591.5,224.1 592.5,224.8C593.5,225.4 594.5,225.8 595.5,226.0C596.5,226.2 597.5,226.0 598.5,225.7C599.5,225.4 600.5,224.9 601.5,224.2C602.5,223.5 603.5,222.5 604.5,221.5C605.5,220.4 606.5,219.2 607.5,217.9C608.5,216.6 609.5,215.1 610.5,213.7C611.5,212.4 612.5,210.9 613.5,209.6C614.5,208.3 615.4,207.1 616.4,206.0C617.4,204.9 618.4,203.9 619.4,203.1C620.4,202.3 621.4,201.6 622.4,201.1C623.4,200.6 624.4,200.3 625.4,200.2C626.4,200.2 627.4,200.4 628.4,200.7C629.4,201.1 630.4,201.7 631.4,202.3C632.4,203.0 633.4,203.9 634.4,204.8C635.4,205.7 636.4,206.7 637.4,207.7C638.4,208.7 639.4,209.7 640.4,210.7C641.4,211.7 642.4,212.7 643.4,213.5C644.4,214.4 645.4,215.2 646.4,215.8C647.4,216.3 648.4,216.8 649.4,217.1C650.4,217.4 651.4,217.5 652.4,217.5C653.4,217.6 654.4,217.5 655.4,217.4C656.4,217.4 657.4,217.2 658.4,217.1C659.4,217.1 660.4,217.0 661.4,217.1C662.4,217.2 663.4,217.3 664.4,217.6C665.4,217.9 666.4,218.4 667.4,219.0C668.4,219.7 669.4,220.5 670.4,221.4C671.3,222.4 672.3,223.5 673.3,224.6C674.3,225.7 675.3,227.0 676.3,228.2C677.3,229.5 678.3,230.8 679.3,232.1C680.3,233.4 681.3,234.7 682.3,235.9C683.3,237.2 684.3,238.4 685.3,239.6C686.3,240.8 687.3,242.0 688.3,243.1C689.3,244.3 690.3,245.4 691.3,246.5C692.3,247.6 693.3,248.7 694.3,249.7C695.3,250.8 696.3,251.8 697.3,252.8C698.3,253.8 699.3,254.8 700.3,255.8C701.3,256.7 702.3,257.6 703.3,258.5C704.3,259.4 705.3,260.2 706.3,261.0C707.3,261.8 708.3,262.6 709.3,263.3C710.3,264.0 711.3,264.7 712.3,265.4C713.3,266.0 714.3,266.6 715.3,267.2C716.3,267.8 717.3,268.3 718.3,268.8C719.3,269.3 720.3,269.8 721.3,270.3C722.3,270.7 723.3,271.1 724.3,271.5C725.3,271.9 726.2,272.2 727.2,272.6C728.2,272.9 729.2,273.2 730.2,273.5C731.2,273.7 732.2,274.0 733.2,274.2C734.2,274.4 735.2,274.6 736.2,274.8C737.2,275.0 738.2,275.1 739.2,275.3C740.2,275.4 741.2,275.5 742.2,275.6C743.2,275.7 744.2,275.8 745.2,275.8C746.2,275.9 747.2,275.9 748.2,275.9C749.2,276.0 750.2,276.0 751.2,276.0C752.2,276.0 753.7,275.9 754.2,275.9"/>
<path d="M418.8,318.0C419.3,317.9 420.8,317.9 421.8,317.8C422.8,317.8 423.8,317.8 424.8,317.7C425.8,317.7 426.8,317.6 427.8,317.6C428.8,317.6 429.8,317.5 430.8,317.5C431.8,317.5 432.8,317.4 433.8,317.4C434.8,317.3 435.8,317.3 436.8,317.2C437.8,317.1 438.8,317.1 439.8,317.0C440.8,316.9 441.8,316.8 442.8,316.7C443.8,316.6 444.8,316.5 445.8,316.4C446.8,316.3 447.7,316.2 448.7,316.0C449.7,315.9 450.7,315.7 451.7,315.6C452.7,315.4 453.7,315.2 454.7,315.0C455.7,314.8 456.7,314.6 457.7,314.3C458.7,314.1 459.7,313.8 460.7,313.5C461.7,313.3 462.7,313.0 463.7,312.6C464.7,312.3 465.7,311.9 466.7,311.6C467.7,311.2 468.7,310.8 469.7,310.4C470.7,309.9 471.7,309.5 472.7,309.0C473.7,308.5 474.7,308.0 475.7,307.5C476.7,306.9 477.7,306.4 478.7,305.8C479.7,305.2 480.7,304.5 481.7,303.9C482.7,303.2 483.7,302.5 484.7,301.7C485.7,301.0 486.7,300.2 487.7,299.4C488.7,298.6 489.7,297.7 490.7,296.8C491.7,295.8 492.7,294.8 493.7,293.8C494.7,292.7 495.7,291.6 496.7,290.4C497.7,289.2 498.7,287.9 499.7,286.5C500.7,285.2 501.7,283.7 502.7,282.2C503.6,280.7 504.6,279.0 505.6,277.3C506.6,275.6 507.6,273.8 508.6,272.0C509.6,270.2 510.6,268.4 511.6,266.6C512.6,264.8 513.6,262.9 514.6,261.2C515.6,259.4 516.6,257.6 517.6,255.9C518.6,254.1 519.6,252.4 520.6,250.7C521.6,249.1 522.6,247.5 523.6,245.9C524.6,244.3 525.6,242.8 526.6,241.4C527.6,239.9 528.6,238.6 529.6,237.2C530.6,235.8 531.6,234.5 532.6,233.2C533.6,231.8 534.6,230.5 535.6,229.2C536.6,227.8 537.6,226.4 538.6,224.9C539.6,223.5 540.6,221.9 541.6,220.4C542.6,218.8 543.6,217.2 544.6,215.6C545.6,214.0 546.6,212.5 547.6,211.0C548.6,209.6 549.6,208.2 550.6,207.0C551.6,205.8 552.6,204.7 553.6,204.0C554.6,203.2 555.6,202.6 556.6,202.4C557.6,202.2 558.5,202.4 559.5,202.8C560.5,203.3 561.5,204.2 562.5,205.3C563.5,206.4 564.5,207.8 565.5,209.5C566.5,211.2 567.5,213.2 568.5,215.4C569.5,217.6 570.5,220.1 571.5,222.7C572.5,225.4 573.5,228.3 574.5,231.1C575.5,234.0 576.5,237.0 577.5,239.9C578.5,242.8 579.5,245.8 580.5,248.4C581.5,251.1 582.5,253.7 583.5,256.0C584.5,258.2 585.5,260.2 586.5,261.9C587.5,263.6 588.5,265.1 589.5,266.2C590.5,267.4 591.5,268.3 592.5,268.9C593.5,269.5 594.5,269.9 595.5,270.1C596.5,270.2 597.5,270.1 598.5,269.7C599.5,269.4 600.5,268.8 601.5,268.1C602.5,267.3 603.5,266.4 604.5,265.3C605.5,264.2 606.5,262.9 607.5,261.6C608.5,260.3 609.5,258.9 610.5,257.5C611.5,256.0 612.5,254.6 613.5,253.2C614.5,251.8 615.4,250.4 616.4,249.2C617.4,248.0 618.4,246.9 619.4,246.0C620.4,245.1 621.4,244.3 622.4,243.8C623.4,243.4 624.4,243.1 625.4,243.0C626.4,243.0 627.4,243.1 628.4,243.5C629.4,243.9 630.4,244.5 631.4,245.1C632.4,245.8 633.4,246.7 634.4,247.6C635.4,248.5 636.4,249.5 637.4,250.5C638.4,251.5 639.4,252.5 640.4,253.5C641.4,254.5 642.4,255.5 643.4,256.3C644.4,257.1 645.4,257.9 646.4,258.5C647.4,259.1 648.4,259.5 649.4,259.8C650.4,260.0 651.4,260.1 652.4,260.1C653.4,260.1 654.4,260.0 655.4,259.9C656.4,259.7 657.4,259.5 658.4,259.4C659.4,259.3 660.4,259.1 661.4,259.1C662.4,259.1 663.4,259.1 664.4,259.3C665.4,259.5 666.4,259.9 667.4,260.3C668.4,260.7 669.4,261.3 670.4,262.0C671.3,262.6 672.3,263.4 673.3,264.3C674.3,265.1 675.3,266.0 676.3,267.0C677.3,268.0 678.3,269.1 679.3,270.2C680.3,271.3 681.3,272.4 682.3,273.6C683.3,274.7 684.3,275.9 685.3,277.1C686.3,278.3 687.3,279.6 688.3,280.8C689.3,282.0 690.3,283.2 691.3,284.4C692.3,285.6 693.3,286.8 694.3,287.9C695.3,289.1 696.3,290.3 697.3,291.4C698.3,292.5 699.3,293.7 700.3,294.7C701.3,295.8 702.3,296.9 703.3,297.9C704.3,298.9 705.3,299.9 706.3,300.8C707.3,301.7 708.3,302.6 709.3,303.4C710.3,304.2 711.3,305.0 712.3,305.7C713.3,306.5 714.3,307.1 715.3,307.8C716.3,308.4 717.3,309.0 718.3,309.6C719.3,310.1 720.3,310.6 721.3,311.1C722.3,311.5 723.3,312.0 724.3,312.4C725.3,312.8 726.2,313.1 727.2,313.4C728.2,313.8 729.2,314.0 730.2,314.3C731.2,314.6 732.2,314.8 733.2,315.0C734.2,315.2 735.2,315.4 736.2,315.5C737.2,315.7 738.2,315.8 739.2,315.9C740.2,316.0 741.2,316.1 742.2,316.1C743.2,316.2 744.2,316.2 745.2,316.3C746.2,316.3 747.2,316.3 748.2,316.3C749.2,316.3 750.2,316.3 751.2,316.3C752.2,316.2 753.7,316.2 754.2,316.1"/>
<path d="M418.8,362.7C419.3,362.7 420.8,362.6 421.8,362.5C422.8,362.4 423.8,362.4 424.8,362.3C425.8,362.3 426.8,362.2 427.8,362.2C428.8,362.1 429.8,362.1 430.8,362.0C431.8,362.0 432.8,361.9 433.8,361.8C434.7,361.8 435.7,361.7 436.7,361.6C437.7,361.5 438.7,361.5 439.7,361.4C440.7,361.3 441.7,361.2 442.7,361.1C443.7,361.0 444.7,360.9 445.7,360.7C446.7,360.6 447.7,360.4 448.7,360.3C449.7,360.1 450.7,360.0 451.7,359.8C452.7,359.6 453.7,359.4 454.7,359.1C455.7,358.9 456.7,358.7 457.7,358.4C458.7,358.2 459.7,357.9 460.7,357.6C461.7,357.3 462.7,356.9 463.7,356.6C464.6,356.2 465.6,355.9 466.6,355.5C467.6,355.1 468.6,354.6 469.6,354.2C470.6,353.7 471.6,353.2 472.6,352.7C473.6,352.2 474.6,351.7 475.6,351.1C476.6,350.5 477.6,349.9 478.6,349.3C479.6,348.6 480.6,348.0 481.6,347.2C482.6,346.5 483.6,345.8 484.6,345.0C485.6,344.2 486.6,343.4 487.6,342.5C488.6,341.7 489.6,340.8 490.6,339.8C491.6,338.9 492.6,337.9 493.6,336.9C494.6,335.9 495.5,334.8 496.5,333.7C497.5,332.6 498.5,331.4 499.5,330.2C500.5,329.0 501.5,327.7 502.5,326.4C503.5,325.1 504.5,323.8 505.5,322.4C506.5,321.0 507.5,319.6 508.5,318.2C509.5,316.8 510.5,315.3 511.5,313.9C512.5,312.4 513.5,310.9 514.5,309.5C515.5,308.0 516.5,306.5 517.5,305.0C518.5,303.5 519.5,302.1 520.5,300.6C521.5,299.1 522.5,297.7 523.5,296.2C524.5,294.8 525.4,293.3 526.4,291.9C527.4,290.5 528.4,289.0 529.4,287.6C530.4,286.1 531.4,284.7 532.4,283.2C533.4,281.8 534.4,280.3 535.4,278.8C536.4,277.3 537.4,275.8 538.4,274.3C539.4,272.8 540.4,271.3 541.4,269.7C542.4,268.2 543.4,266.7 544.4,265.2C545.4,263.8 546.4,262.3 547.4,261.0C548.4,259.7 549.4,258.5 550.4,257.5C551.4,256.5 552.4,255.6 553.4,254.9C554.4,254.2 555.4,253.7 556.3,253.6C557.3,253.4 558.3,253.5 559.3,253.9C560.3,254.3 561.3,255.0 562.3,256.0C563.3,257.0 564.3,258.3 565.3,259.8C566.3,261.2 567.3,263.0 568.3,264.9C569.3,266.8 570.3,269.0 571.3,271.3C572.3,273.5 573.3,276.0 574.3,278.5C575.3,281.1 576.3,283.8 577.3,286.5C578.3,289.2 579.3,292.1 580.3,294.8C581.3,297.5 582.3,300.3 583.3,302.7C584.3,305.1 585.3,307.3 586.2,309.2C587.2,311.1 588.2,312.7 589.2,314.0C590.2,315.3 591.2,316.3 592.2,317.0C593.2,317.8 594.2,318.3 595.2,318.5C596.2,318.8 597.2,318.8 598.2,318.7C599.2,318.5 600.2,318.1 601.2,317.6C602.2,317.0 603.2,316.3 604.2,315.4C605.2,314.5 606.2,313.5 607.2,312.3C608.2,311.2 609.2,309.8 610.2,308.5C611.2,307.2 612.2,305.8 613.2,304.5C614.2,303.1 615.2,301.7 616.2,300.5C617.1,299.2 618.1,298.0 619.1,296.9C620.1,295.9 621.1,294.9 622.1,294.2C623.1,293.5 624.1,292.9 625.1,292.7C626.1,292.4 627.1,292.4 628.1,292.7C629.1,292.9 630.1,293.4 631.1,294.0C632.1,294.7 633.1,295.5 634.1,296.4C635.1,297.3 636.1,298.3 637.1,299.3C638.1,300.2 639.1,301.3 640.1,302.3C641.1,303.2 642.1,304.2 643.1,304.9C644.1,305.7 645.1,306.4 646.1,306.9C647.1,307.4 648.0,307.6 649.0,307.7C650.0,307.8 651.0,307.7 652.0,307.5C653.0,307.4 654.0,307.1 655.0,306.8C656.0,306.6 657.0,306.3 658.0,306.2C659.0,306.0 660.0,305.9 661.0,306.0C662.0,306.1 663.0,306.4 664.0,306.8C665.0,307.2 666.0,307.8 667.0,308.4C668.0,309.1 669.0,309.8 670.0,310.7C671.0,311.5 672.0,312.4 673.0,313.3C674.0,314.3 675.0,315.3 676.0,316.3C677.0,317.3 677.9,318.4 678.9,319.5C679.9,320.6 680.9,321.8 681.9,323.0C682.9,324.1 683.9,325.3 684.9,326.5C685.9,327.7 686.9,328.9 687.9,330.1C688.9,331.3 689.9,332.5 690.9,333.7C691.9,334.9 692.9,336.1 693.9,337.3C694.9,338.4 695.9,339.6 696.9,340.6C697.9,341.7 698.9,342.8 699.9,343.8C700.9,344.8 701.9,345.8 702.9,346.7C703.9,347.6 704.9,348.5 705.9,349.3C706.9,350.1 707.9,350.8 708.8,351.4C709.8,352.1 710.8,352.6 711.8,353.1C712.8,353.6 713.8,354.0 714.8,354.4C715.8,354.7 716.8,355.0 717.8,355.4C718.8,355.8 719.8,356.1 720.8,356.5C721.8,356.9 722.8,357.4 723.8,357.8C724.8,358.3 725.8,358.9 726.8,359.3C727.8,359.8 728.8,360.3 729.8,360.7C730.8,361.0 731.8,361.4 732.8,361.6C733.8,361.9 734.8,362.0 735.8,362.1C736.8,362.2 737.8,362.2 738.7,362.2C739.7,362.2 740.7,362.1 741.7,362.0C742.7,362.0 743.7,361.8 744.7,361.7C745.7,361.6 746.7,361.5 747.7,361.4C748.7,361.2 749.7,361.1 750.7,361.0C751.7,361.0 753.2,360.9 753.7,360.9"/>
<path d="M418.4,395.9C418.9,395.9 420.4,396.0 421.4,396.0C422.4,396.0 423.4,396.0 424.4,396.0C425.4,396.0 426.4,396.1 427.4,396.1C428.4,396.1 429.4,396.1 430.4,396.1C431.4,396.2 432.4,396.2 433.4,396.2C434.4,396.2 435.4,396.2 436.4,396.2C437.4,396.3 438.4,396.3 439.4,396.3C440.4,396.3 441.4,396.3 442.4,396.3C443.4,396.4 444.4,396.4 445.4,396.4C446.4,396.4 447.4,396.4 448.4,396.4C449.4,396.4 450.4,396.5 451.4,396.5C452.4,396.5 453.4,396.5 454.4,396.5C455.4,396.5 456.4,396.6 457.4,396.6C458.4,396.6 459.4,396.6 460.4,396.6C461.4,396.6 462.4,396.6 463.4,396.7C464.4,396.7 465.4,396.7 466.4,396.7C467.4,396.7 468.4,396.7 469.4,396.7C470.4,396.8 471.4,396.8 472.4,396.8C473.4,396.8 474.4,396.8 475.4,396.8C476.4,396.8 477.4,396.8 478.4,396.9C479.4,396.9 480.4,396.9 481.4,396.9C482.4,396.9 483.4,396.9 484.4,396.9C485.4,397.0 486.4,397.0 487.4,397.0C488.4,397.0 489.4,397.0 490.4,397.0C491.4,397.0 492.4,397.0 493.4,397.0C494.4,397.1 495.4,397.1 496.4,397.1C497.4,397.1 498.4,397.1 499.4,397.1C500.4,397.1 501.4,397.1 502.4,397.2C503.3,397.2 504.3,397.2 505.3,397.2C506.3,397.2 507.3,397.2 508.3,397.2C509.3,397.2 510.3,397.2 511.3,397.3C512.3,397.3 513.3,397.3 514.3,397.3C515.3,397.3 516.3,397.3 517.3,397.3C518.3,397.3 519.3,397.3 520.3,397.3C521.3,397.4 522.3,397.4 523.3,397.4C524.3,397.4 525.3,397.4 526.3,397.4C527.3,397.4 528.3,397.4 529.3,397.4C530.3,397.4 531.3,397.5 532.3,397.5C533.3,397.5 534.3,397.5 535.3,397.5C536.3,397.5 537.3,397.5 538.3,397.5C539.3,397.5 540.3,397.5 541.3,397.5C542.3,397.5 543.3,397.6 544.3,397.6C545.3,397.6 546.3,397.6 547.3,397.6C548.3,397.6 549.3,397.6 550.3,397.6C551.3,397.6 552.3,397.6 553.3,397.6C554.3,397.6 555.3,397.7 556.3,397.7C557.3,397.7 558.3,397.7 559.3,397.7C560.3,397.7 561.3,397.7 562.3,397.7C563.3,397.7 564.3,397.7 565.3,397.7C566.3,397.7 567.3,397.7 568.3,397.7C569.3,397.8 570.3,397.8 571.3,397.8C572.3,397.8 573.3,397.8 574.3,397.8C575.3,397.8 576.3,397.8 577.3,397.8C578.3,397.8 579.3,397.8 580.3,397.8C581.3,397.8 582.3,397.8 583.3,397.8C584.3,397.8 585.3,397.9 586.3,397.9C587.3,397.9 588.3,397.9 589.3,397.9C590.3,397.9 591.3,397.9 592.3,397.9C593.3,397.9 594.3,397.9 595.3,397.9C596.3,397.9 597.3,397.9 598.3,397.9C599.3,397.9 600.3,397.9 601.3,397.9C602.3,397.9 603.3,398.0 604.3,398.0C605.3,398.0 606.3,398.0 607.3,398.0C608.3,398.0 609.3,398.0 610.3,398.0C611.3,398.0 612.3,398.0 613.3,398.0C614.3,398.0 615.3,398.0 616.3,398.0C617.3,398.0 618.3,398.0 619.3,398.0C620.3,398.0 621.3,398.0 622.3,398.0C623.3,398.0 624.3,398.0 625.3,398.0C626.3,398.0 627.3,398.1 628.3,398.1C629.3,398.1 630.3,398.1 631.3,398.1C632.3,398.1 633.3,398.1 634.3,398.1C635.3,398.1 636.3,398.1 637.3,398.1C638.3,398.1 639.3,398.1 640.3,398.1C641.3,398.1 642.3,398.1 643.3,398.1C644.3,398.1 645.3,398.1 646.3,398.1C647.3,398.1 648.3,398.1 649.3,398.1C650.3,398.1 651.3,398.1 652.3,398.1C653.3,398.1 654.3,398.1 655.3,398.1C656.3,398.1 657.3,398.1 658.3,398.1C659.3,398.1 660.3,398.1 661.3,398.2C662.3,398.2 663.3,398.2 664.3,398.2C665.3,398.2 666.3,398.2 667.3,398.2C668.3,398.2 669.3,398.2 670.2,398.2C671.2,398.2 672.2,398.2 673.2,398.2C674.2,398.2 675.2,398.2 676.2,398.2C677.2,398.2 678.2,398.2 679.2,398.2C680.2,398.2 681.2,398.2 682.2,398.2C683.2,398.2 684.2,398.2 685.2,398.2C686.2,398.2 687.2,398.2 688.2,398.2C689.2,398.2 690.2,398.2 691.2,398.2C692.2,398.2 693.2,398.2 694.2,398.2C695.2,398.2 696.2,398.2 697.2,398.2C698.2,398.2 699.2,398.2 700.2,398.2C701.2,398.2 702.2,398.2 703.2,398.2C704.2,398.2 705.2,398.2 706.2,398.2C707.2,398.2 708.2,398.2 709.2,398.2C710.2,398.2 711.2,398.2 712.2,398.2C713.2,398.2 714.2,398.2 715.2,398.2C716.2,398.2 717.2,398.2 718.2,398.2C719.2,398.2 720.2,398.2 721.2,398.2C722.2,398.2 723.2,398.2 724.2,398.2C725.2,398.2 726.2,398.2 727.2,398.2C728.2,398.2 729.2,398.2 730.2,398.2C731.2,398.2 732.2,398.2 733.2,398.2C734.2,398.2 735.2,398.2 736.2,398.2C737.2,398.2 738.2,398.2 739.2,398.2C740.2,398.2 741.2,398.2 742.2,398.2C743.2,398.2 744.2,398.2 745.2,398.2C746.2,398.2 747.2,398.2 748.2,398.2C749.2,398.2 750.2,398.2 751.2,398.2C752.2,398.2 753.7,398.2 754.2,398.2"/>
</g>
<path d="M169.4,68.8C169.5,75.7 169.7,98.1 169.8,110.0C169.9,121.9 169.9,130.0 170.2,140.0C170.5,150.0 171.0,160.8 171.5,170.0C172.0,179.2 172.6,186.2 173.2,195.0C173.8,203.8 174.5,213.6 175.1,223.0C175.7,232.4 176.1,241.6 177.0,251.6C177.9,261.6 179.6,275.3 180.6,283.0C181.6,290.7 182.7,293.8 183.2,298.0C183.7,302.2 183.6,304.5 183.7,308.0C183.8,311.5 183.8,317.2 183.8,319.0" fill="none" stroke="#000" stroke-width="3.7" stroke-dasharray="8.4 3.6" stroke-dashoffset="5.2"/>
<path d="M169.4,68.8L169.6,84M183.4,303L183.8,319" fill="none" stroke="#000" stroke-width="3.7"/>
<g fill="none" stroke="#000">
<path d="M27.15,2.05V409.1" stroke-width="3.9"/><path d="M366.05,2.05V409.1" stroke-width="3.9"/>
<path d="M27.15,409.1V420.7M366.05,409.1V420.7" stroke-width="3.9" stroke-linecap="round"/>
<path d="M27.15,3.75H366.05" stroke-width="3.4"/>
<path d="M27.15,409.1H366.05" stroke-width="4.1"/>
<path d="M75.6,409.1V420.7M124.0,409.1V420.7M172.4,409.1V420.7M220.8,409.1V420.7M269.2,409.1V420.7M317.6,409.1V420.7M51.4,409.1V415.2M99.8,409.1V415.2M148.2,409.1V415.2M196.6,409.1V415.2M245.0,409.1V415.2M293.4,409.1V415.2M341.8,409.1V415.2" stroke-width="3.9" stroke-linecap="round"/>
</g>
<g font-size="18.2">
<text x="10.1" y="442.0" textLength="34.4" lengthAdjust="spacingAndGlyphs">1800</text>
<text x="58.6" y="442.0" textLength="34.4" lengthAdjust="spacingAndGlyphs">1780</text>
<text x="107.0" y="442.0" textLength="34.4" lengthAdjust="spacingAndGlyphs">1760</text>
<text x="155.4" y="442.0" textLength="34.4" lengthAdjust="spacingAndGlyphs">1740</text>
<text x="203.8" y="442.0" textLength="34.4" lengthAdjust="spacingAndGlyphs">1720</text>
<text x="252.2" y="442.0" textLength="34.4" lengthAdjust="spacingAndGlyphs">1700</text>
<text x="300.6" y="442.0" textLength="34.4" lengthAdjust="spacingAndGlyphs">1680</text>
<text x="349.1" y="442.0" textLength="34.4" lengthAdjust="spacingAndGlyphs">1660</text>
</g>
<g fill="none" stroke="#000">
<path d="M416.45,2.05V409.5" stroke-width="3.8"/><path d="M755.30,2.05V409.5" stroke-width="4.3"/>
<path d="M416.45,409.5V420.7M755.30,409.5V420.7" stroke-width="3.9" stroke-linecap="round"/>
<path d="M416.45,3.75H755.30" stroke-width="3.4"/>
<path d="M416.45,409.5H755.30" stroke-width="4.1"/>
<path d="M464.9,409.5V420.7M513.3,409.5V420.7M561.7,409.5V420.7M610.1,409.5V420.7M658.5,409.5V420.7M706.9,409.5V420.7M440.7,409.5V415.2M489.1,409.5V415.2M537.5,409.5V415.2M585.9,409.5V415.2M634.3,409.5V415.2M682.7,409.5V415.2M731.1,409.5V415.2" stroke-width="3.9" stroke-linecap="round"/>
</g>
<g font-size="18.2">
<text x="398.9" y="442.0" textLength="34.4" lengthAdjust="spacingAndGlyphs">3225</text>
<text x="447.4" y="442.0" textLength="34.4" lengthAdjust="spacingAndGlyphs">3200</text>
<text x="495.8" y="442.0" textLength="34.4" lengthAdjust="spacingAndGlyphs">3175</text>
<text x="544.2" y="442.0" textLength="34.4" lengthAdjust="spacingAndGlyphs">3150</text>
<text x="592.6" y="442.0" textLength="34.4" lengthAdjust="spacingAndGlyphs">3125</text>
<text x="641.0" y="442.0" textLength="34.4" lengthAdjust="spacingAndGlyphs">3100</text>
<text x="689.4" y="442.0" textLength="34.4" lengthAdjust="spacingAndGlyphs">3075</text>
<text x="737.8" y="442.0" textLength="34.4" lengthAdjust="spacingAndGlyphs">3050</text>
</g>
<g font-size="21.8">
<text x="35.4" y="33.0" textLength="207" lengthAdjust="spacingAndGlyphs">(a) [EPrI][TFSI]/PHB</text>
<text x="425.7" y="33.8" textLength="207.6" lengthAdjust="spacingAndGlyphs">(b) [EPrI][TFSI]/PHB</text>
</g>
<text transform="translate(67.6,55.7) scale(1.374,1)" font-size="19" style="font-weight:normal">=</text>
<text transform="translate(457.6,57.0) scale(1.374,1)" font-size="19" style="font-weight:normal">=</text>
<text x="90.7" y="468.8" font-size="24" letter-spacing="0.54">Wavenumber (cm<tspan font-size="12.5" dx="1.2" dy="-8.1" letter-spacing="0.3">-1</tspan><tspan dx="1" dy="8.1">)</tspan></text>
<text x="480.0" y="468.8" font-size="24" letter-spacing="0.54">Wavenumber (cm<tspan font-size="12.5" dx="1.2" dy="-8.1" letter-spacing="0.3">-1</tspan><tspan dx="1" dy="8.1">)</tspan></text>
<text transform="translate(19.7,330.6) rotate(-90)" font-size="23.2" word-spacing="1.3" textLength="249.5" lengthAdjust="spacingAndGlyphs">Absorbance (offset scale)</text>
<text transform="translate(408.7,331.1) rotate(-90)" font-size="23.2" word-spacing="1.3" textLength="249" lengthAdjust="spacingAndGlyphs">Absorbance (offset scale)</text>
<g font-size="17.3">
<text x="359.8" y="206.5" text-anchor="end">0/100</text>
<text x="359.2" y="241.7" text-anchor="end">10/90</text>
<text x="359.2" y="279.4" text-anchor="end">20/80</text>
<text x="357.8" y="314.6" text-anchor="end">30/70</text>
<text x="357.6" y="352.1" text-anchor="end">40/60</text>
<text x="357.8" y="386.9" text-anchor="end">100/0</text>
<text x="426.6" y="162.7">100/0</text>
<text x="426.6" y="211.8">40/60</text>
<text x="426.6" y="260.5">30/70</text>
<text x="426.6" y="305.2">20/80</text>
<text x="426.6" y="348.2">10/90</text>
<text x="426.6" y="387.2">0/100</text>
</g>
<g font-size="17">
<text x="151.4" y="64.9" textLength="36" lengthAdjust="spacingAndGlyphs">1740</text>
<text x="166.1" y="336.9" textLength="36" lengthAdjust="spacingAndGlyphs">1735</text>
<text x="539.6" y="62.8" textLength="36" lengthAdjust="spacingAndGlyphs">3149</text>
<text x="485" y="96.4" textLength="36" lengthAdjust="spacingAndGlyphs">3168</text>
<text x="607.6" y="98.8" textLength="36" lengthAdjust="spacingAndGlyphs">3116</text>
<text x="652.5" y="115.6" textLength="36" lengthAdjust="spacingAndGlyphs">3093</text>
</g>
</svg></body></html>
